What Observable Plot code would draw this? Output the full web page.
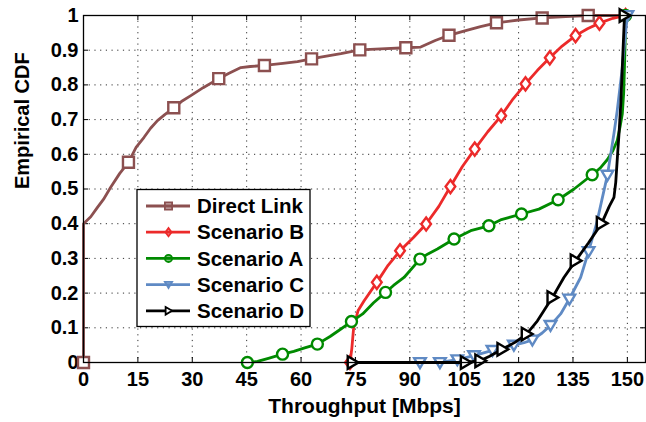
<!DOCTYPE html>
<html><head><meta charset="utf-8">
<script src="https://cdn.jsdelivr.net/npm/d3@7"></script>
<script src="https://cdn.jsdelivr.net/npm/@observablehq/plot@0.6"></script>
<style>
body{margin:0;background:#fff}
#wrap{position:relative;width:646px;height:422px}
#legend{position:absolute;left:0;top:0}
</style></head><body><div id="wrap"></div>
<script>
// ---- data ----
const seriesNames = ["Direct Link", "Scenario B", "Scenario A", "Scenario C", "Scenario D"];
const xTicks = [0, 15, 30, 45, 60, 75, 90, 105, 120, 135, 150];
const yTicks = [0, 0.1, 0.2, 0.3, 0.4, 0.5, 0.6, 0.7, 0.8, 0.9, 1];
const yTickLabels = ["0", "0.1", "0.2", "0.3", "0.4", "0.5", "0.6", "0.7", "0.8", "0.9", "1"];

const directX = [0,0,2,3.85,5.5,7.5,10,12.4,14.5,16.7,18.5,20.4,22.5,24.9,27,29.6,33,37.3,40,43.4,46,49.9,55,59,62.9,65.4,71,76.2,82,88.9,93,97,100.8,104.9,109.5,113.9,120,126.5,133,139.2,150];
const directY = [0,0.4,0.42,0.447,0.47,0.505,0.545,0.577,0.62,0.649,0.675,0.697,0.715,0.734,0.752,0.769,0.792,0.818,0.833,0.85,0.853,0.856,0.862,0.867,0.875,0.88,0.89,0.901,0.904,0.907,0.909,0.928,0.943,0.955,0.968,0.979,0.987,0.993,0.997,1,1];
const directMarkX = [0,12.4,24.9,37.3,49.9,62.9,76.2,88.9,100.8,113.9,126.5,139.2];
const directMarkY = [0,0.577,0.734,0.818,0.856,0.875,0.901,0.907,0.943,0.979,0.993,1];

const bX = [73.5,74,74.5,75.7,77.4,80.9,84,87.3,91,94.5,98,101.2,104.5,107.9,111.5,115.2,118.5,121.9,125.2,128.6,132,135.7,139,142.3,146,149.5];
const bY = [0,0.04,0.1,0.149,0.178,0.231,0.28,0.322,0.36,0.399,0.45,0.507,0.565,0.615,0.665,0.711,0.76,0.803,0.842,0.878,0.912,0.942,0.962,0.978,0.992,1];
const bMarkX = [73.5,80.9,87.3,94.5,101.2,107.9,115.2,121.9,128.6,135.7,142.3,149.5];
const bMarkY = [0,0.231,0.322,0.399,0.507,0.615,0.711,0.803,0.878,0.942,0.978,1];

const aX = [45.2,48,51,54.9,58,61,64.5,68,70.5,73.9,77,80,83.3,85.5,88.4,92.8,95,97.6,102.2,106.8,111.8,115,120.8,125.6,130.9,135.3,140.3,142.5,144.5,146,147.2,148,148.6,149,149.2,149.4,149.5];
const aY = [0,0.003,0.012,0.024,0.032,0.042,0.053,0.075,0.093,0.118,0.14,0.172,0.202,0.222,0.245,0.298,0.313,0.327,0.356,0.38,0.394,0.411,0.428,0.442,0.469,0.5,0.541,0.56,0.585,0.61,0.64,0.68,0.716,0.78,0.85,0.93,1];
const aMarkX = [45.2,54.9,64.5,73.9,83.3,92.8,102.2,111.8,120.8,130.9,140.3,149.5];
const aMarkY = [0,0.024,0.053,0.118,0.202,0.298,0.356,0.394,0.428,0.469,0.541,1];

const cX = [92,92.8,98.3,103.1,107.7,112.8,118.7,121.5,123.8,126.5,128.8,131.6,134,137.1,139.3,141.5,143,144.5,146.3,147.2,148.5,149.3,150];
const cY = [0,0,0,0.008,0.02,0.035,0.05,0.057,0.065,0.085,0.107,0.14,0.183,0.245,0.32,0.4,0.47,0.54,0.66,0.726,0.84,0.93,1];
const cMarkX = [92.8,98.3,103.1,107.7,112.8,118.7,123.8,128.8,134,139.3,144.5,150];
const cMarkY = [0,0,0.008,0.02,0.035,0.05,0.065,0.107,0.183,0.32,0.54,1];

const dX = [74.2,105.4,109.4,112,115.5,119,122.2,125.2,129.3,132.5,135.7,139.3,142.9,145,146.3,146.8,147.3,147.7,148.2,148.6,149.2];
const dY = [0,0,0.005,0.018,0.038,0.058,0.082,0.12,0.187,0.245,0.293,0.345,0.401,0.45,0.476,0.52,0.6,0.66,0.75,0.85,1];
const dMarkX = [74.2,105.4,109.4,115.5,122.2,129.3,135.7,142.9,149.2];
const dMarkY = [0,0,0.005,0.038,0.082,0.187,0.293,0.401,1];

// ---- symbols ----
const rOf = size => Math.sqrt(size / Math.PI);
const symSquare = {draw(c, size){const r = rOf(size); c.rect(-r, -r, 2*r, 2*r);}};
const symDiamond = {draw(c, size){const r = rOf(size); const w = r*0.85, h = r*1.15; c.moveTo(0,-h); c.lineTo(w,0); c.lineTo(0,h); c.lineTo(-w,0); c.closePath();}};
const symCircle = {draw(c, size){const r = rOf(size); c.moveTo(r,0); c.arc(0,0,r,0,2*Math.PI); c.closePath();}};
const symTriDown = {draw(c, size){const r = rOf(size); c.moveTo(-r*1.0,-r*0.75); c.lineTo(r*1.0,-r*0.75); c.lineTo(0,r*0.95); c.closePath();}};
const symTriRight = {draw(c, size){const r = rOf(size); c.moveTo(-r*0.8,-r*1.05); c.lineTo(r*1.0,0); c.lineTo(-r*0.8,r*1.05); c.closePath();}};

const series = [
  {name: seriesNames[0], color: "#8c5050", sym: symSquare, r: 5.5, lx: directX, ly: directY, mx: directMarkX, my: directMarkY},
  {name: seriesNames[1], color: "#ec2a2a", sym: symDiamond, r: 5.7, lx: bX, ly: bY, mx: bMarkX, my: bMarkY},
  {name: seriesNames[2], color: "#008a00", sym: symCircle, r: 5.5, lx: aX, ly: aY, mx: aMarkX, my: aMarkY},
  {name: seriesNames[3], color: "#5f8ac4", sym: symTriDown, r: 5.8, lx: cX, ly: cY, mx: cMarkX, my: cMarkY},
  {name: seriesNames[4], color: "#000000", sym: symTriRight, r: 6, lx: dX, ly: dY, mx: dMarkX, my: dMarkY}
];

const W = 646, H = 422;
const mL = 83, mR = 1, mT = 15, mB = 60;
const xMax = 155;
const tickLenX = 5 * xMax / (W - mL - mR);
const tickLenY = 5 / (H - mT - mB);

const marks = [
  Plot.gridX(xTicks, {stroke: "#333", strokeOpacity: 1, strokeDasharray: "1.2,4.5", strokeWidth: 1}),
  Plot.gridY(yTicks, {stroke: "#333", strokeOpacity: 1, strokeDasharray: "1.2,4.5", strokeWidth: 1}),
  Plot.ruleY(yTicks, {x1: 0, x2: tickLenX, stroke: "#000", strokeWidth: 1}),
  Plot.ruleY(yTicks, {x1: xMax - tickLenX, x2: xMax, stroke: "#000", strokeWidth: 1}),
  Plot.ruleX(xTicks, {y1: 0, y2: tickLenY, stroke: "#000", strokeWidth: 1}),
  Plot.ruleX(xTicks, {y1: 1 - tickLenY, y2: 1, stroke: "#000", strokeWidth: 1}),
  Plot.axisX(xTicks, {tickSize: 0, tickPadding: 9, label: null, tickFormat: d => String(d)}),
  Plot.axisY(yTicks, {tickSize: 0, tickPadding: 5, label: null, tickFormat: (d, i) => yTickLabels[i]}),
  Plot.text(["Empirical CDF"], {frameAnchor: "left", rotate: -90, dx: -61, fontSize: 20, fontWeight: "bold"}),
  Plot.text(["Throughput [Mbps]"], {frameAnchor: "bottom", dy: 50, fontSize: 21, fontWeight: "bold"})
];
for (const s of series) {
  const line = s.lx.map((x, i) => ({x, y: s.ly[i]}));
  const pts = s.mx.map((x, i) => ({x, y: s.my[i]}));
  marks.push(Plot.line(line, {x: "x", y: "y", stroke: s.color, strokeWidth: 2.8, strokeLinejoin: "round", curve: "linear"}));
  marks.push(Plot.dot(pts, {x: "x", y: "y", symbol: s.sym, r: s.r, stroke: s.color, strokeWidth: 2.4, fill: "#fff"}));
}
marks.push(Plot.frame({stroke: "#000", strokeWidth: 1.3}));

const chart = Plot.plot({
  width: W, height: H,
  marginLeft: mL, marginRight: mR, marginTop: mT, marginBottom: mB,
  x: {domain: [0, xMax]},
  y: {domain: [0, 1]},
  style: {fontFamily: "'Liberation Sans', Arial, sans-serif", fontSize: "20px", fontWeight: "bold", color: "#000", background: "#fff", overflow: "visible"},
  marks
});
const wrap = document.getElementById("wrap");
wrap.appendChild(chart);

// ---- legend ----
const leg = d3.select(wrap).append("svg").attr("id", "legend").attr("width", W).attr("height", H);
const lx0 = 137, ly0 = 189.5, lw = 173, lh = 137;
leg.append("rect").attr("x", lx0).attr("y", ly0).attr("width", lw).attr("height", lh)
  .attr("fill", "#fff").attr("stroke", "#000").attr("stroke-width", 1.3);
series.forEach((s, i) => {
  const cy = 206 + i * 26.2;
  const g = leg.append("g");
  g.append("line").attr("x1", 146).attr("x2", 190).attr("y1", cy).attr("y2", cy)
    .attr("stroke", s.color).attr("stroke-width", 2.8);
  const p = d3.path(); s.sym.draw(p, Math.PI * 3.6 * 3.6);
  g.append("path").attr("d", p.toString()).attr("transform", `translate(168.5,${cy})`)
    .attr("fill", s.color === "#000000" ? "#fff" : s.color).attr("fill-opacity", s.color === "#000000" ? 1 : 0.5)
    .attr("stroke", s.color).attr("stroke-width", 1.8);
  g.append("text").attr("x", 197).attr("y", cy + 7.2).text(s.name)
    .attr("font-family", "'Liberation Sans', Arial, sans-serif").attr("font-size", 20.5).attr("font-weight", "bold").attr("fill", "#000");
});
</script></body></html>
